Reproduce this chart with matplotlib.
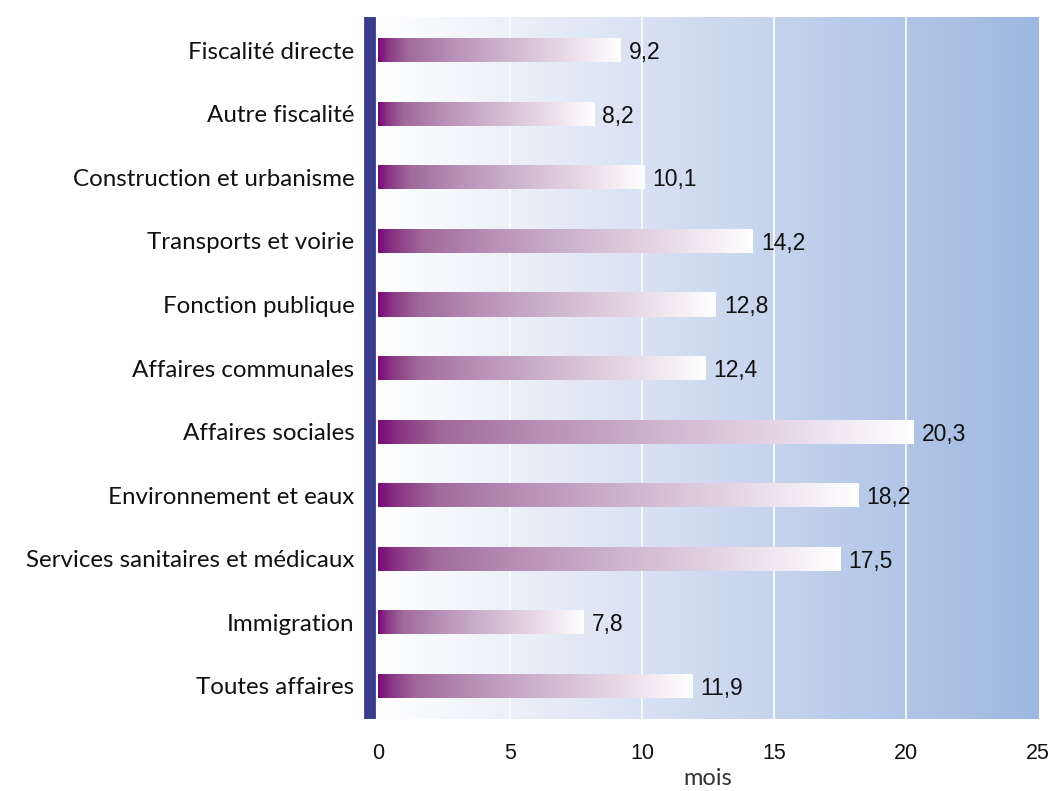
import numpy as np
import matplotlib
matplotlib.use("Agg")
import matplotlib.pyplot as plt
from matplotlib.colors import LinearSegmentedColormap

categories = [
    "Fiscalité directe",
    "Autre fiscalité",
    "Construction et urbanisme",
    "Transports et voirie",
    "Fonction publique",
    "Affaires communales",
    "Affaires sociales",
    "Environnement et eaux",
    "Services sanitaires et médicaux",
    "Immigration",
    "Toutes affaires",
]
values = [9.2, 8.2, 10.1, 14.2, 12.8, 12.4, 20.3, 18.2, 17.5, 7.8, 11.9]
xticks = [0, 5, 10, 15, 20, 25]

label_font = ["Lato", "DejaVu Sans"]
num_font = ["Liberation Sans", "DejaVu Sans"]
plt.rcParams["font.family"] = num_font

fig = plt.figure(figsize=(10.52, 7.91), dpi=100)
ax = fig.add_axes([0.3593, 0.0910, 0.6274, 0.8875])

y = np.arange(len(categories))
ylim = (len(categories) - 0.5 + 0.02, -0.52)
ax.set_xlim(0, 25)

# background gradient white -> light blue
bg_cmap = LinearSegmentedColormap.from_list("bg", ["#ffffff", "#cfdaf0", "#9db8e0"])
grad = np.linspace(0, 1, 256).reshape(1, -1)
ax.imshow(grad, cmap=bg_cmap, aspect="auto", extent=[0, 25, ylim[1], ylim[0]],
          origin="lower", zorder=0)

for xv in xticks[1:-1]:
    ax.axvline(xv, color="white", lw=1.2, zorder=1)

# bars with purple -> white gradient
bar_cmap = LinearSegmentedColormap.from_list(
    "bar", [(0, "#790a79"), (0.04, "#8a3684"), (0.12, "#a06a9b"), (0.3, "#b98fb6"),
            (0.5, "#cdb1cc"), (0.75, "#e6d6e5"), (1, "#ffffff")])
bars = ax.barh(y, values, height=0.38, color="none", edgecolor="none", zorder=2)
for b, v in zip(bars, values):
    x0, y0 = b.get_x(), b.get_y()
    im = ax.imshow(grad, cmap=bar_cmap, aspect="auto",
                   extent=[x0, x0 + b.get_width(), y0 + b.get_height(), y0], zorder=3)
    im.set_clip_path(b)
    ax.text(v + 0.3, b.get_y() + b.get_height() / 2, f"{v:.1f}".replace(".", ","),
            va="center_baseline", ha="left", fontsize=16.5, fontfamily=num_font, color="#111111")

ax.set_ylim(*ylim)
ax.set_yticks(y, categories)
ax.set_xticks(xticks, [str(t) for t in xticks])
ax.tick_params(axis="both", length=0)
ax.tick_params(axis="x", pad=17, labelsize=15.5, labelfontfamily="Liberation Sans", labelcolor="#111111")
ax.tick_params(axis="y", pad=11, labelsize=17.4, labelfontfamily="Lato", labelcolor="#111111")

for s in ["top", "right", "bottom"]:
    ax.spines[s].set_visible(False)
ax.spines["left"].set_color("#3a3d8c")
ax.spines["left"].set_linewidth(8.5)
ax.spines["left"].set_capstyle("butt")
ax.spines["left"].set_position(("outward", 6))

ax.set_xlabel("mois", fontfamily=label_font, fontsize=17, color="#333333", labelpad=3)

fig.savefig("out.png", dpi=100)
